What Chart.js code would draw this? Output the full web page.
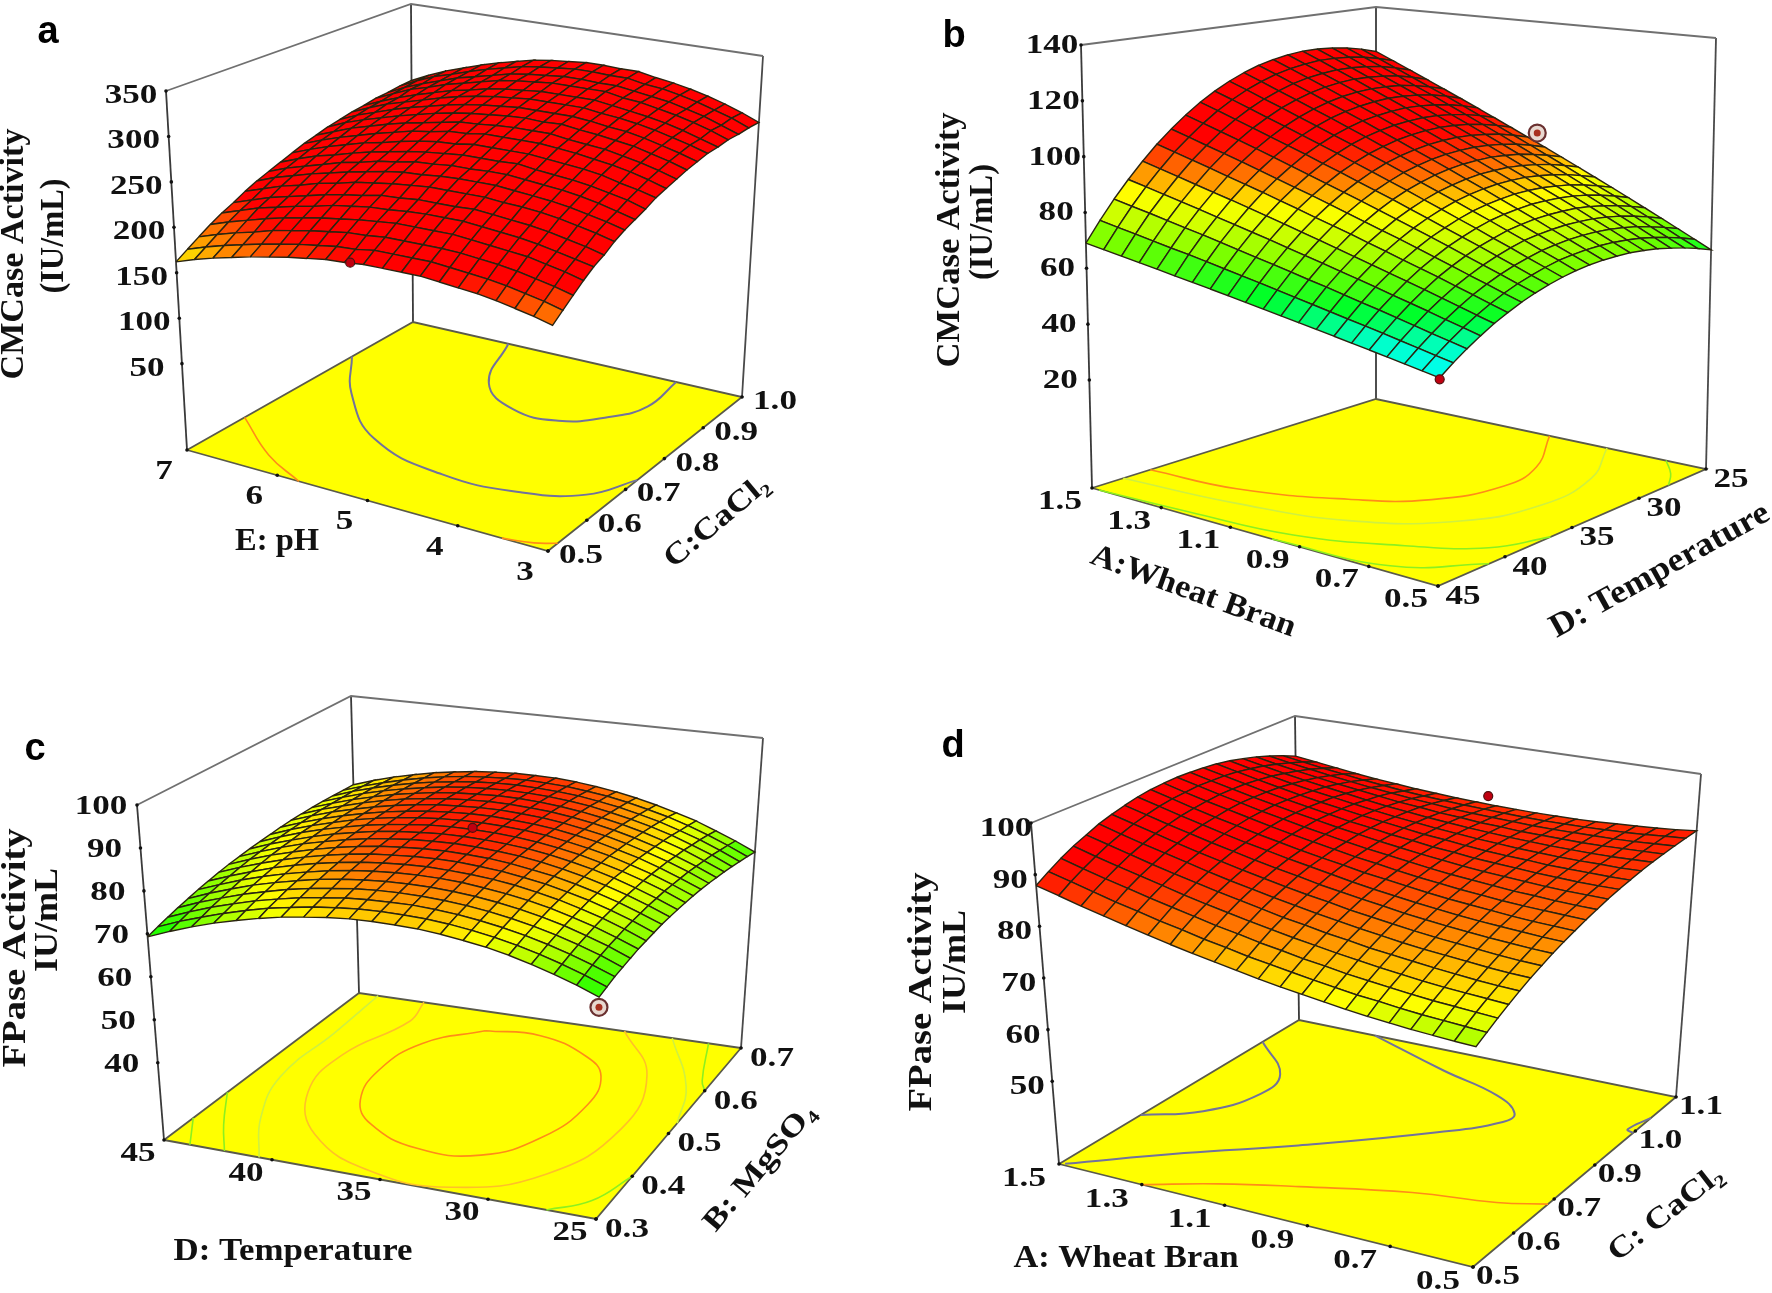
<!DOCTYPE html>
<html><head><meta charset="utf-8">
<style>html,body{margin:0;padding:0;background:#fff}canvas{display:block}</style>
<script src="https://cdn.jsdelivr.net/npm/chart.js@4/dist/chart.umd.min.js"></script>
</head><body><canvas id="c" width="1772" height="1293"></canvas>
<script>
// ---------- panel a: CMCase vs pH / CaCl2 ----------
const phTicks=[7,6,5,4,3];
const caTicksA=[0.5,0.6,0.7,0.8,0.9,1.0];
const zTicksA=[50,100,150,200,250,300,350];
const surfaceA=[
[162,170,178,186,193,199,206,212,217,222,227,232,236,240,243,246,248,251,252,254,255],
[169,177,185,193,200,206,213,220,225,230,235,240,244,249,252,255,257,260,262,264,265],
[175,183,191,199,207,213,220,226,231,237,242,247,252,256,259,263,265,269,270,273,274],
[180,188,196,205,212,218,225,232,237,242,248,253,258,262,266,269,272,275,277,279,281],
[185,193,202,210,217,223,231,237,243,248,254,259,264,268,272,275,278,282,284,286,288],
[189,197,206,214,221,228,235,242,247,253,258,264,269,273,277,281,284,287,289,292,294],
[193,201,210,218,226,232,240,246,252,257,263,269,273,278,282,286,288,292,294,297,299],
[196,204,213,221,229,235,243,250,255,261,267,272,277,282,286,290,293,297,299,302,304],
[199,207,216,224,232,239,246,253,259,264,270,276,281,285,289,293,296,300,302,305,307],
[200,208,217,226,233,240,248,254,260,266,271,277,282,287,291,295,298,302,304,307,309],
[202,211,219,228,235,242,250,256,262,268,274,280,284,289,293,297,300,304,306,309,311],
[202,211,219,228,236,242,250,257,262,268,274,280,285,290,293,297,300,304,306,309,311],
[202,211,219,228,236,242,250,257,263,268,274,280,285,289,293,297,300,304,305,308,310],
[202,211,219,228,236,243,250,257,263,269,274,280,285,290,293,297,300,304,305,308,310],
[200,209,218,226,234,241,248,255,261,266,272,278,282,287,291,294,297,300,302,304,306],
[198,207,216,224,232,239,247,253,259,264,270,276,280,285,288,292,294,298,299,302,303],
[196,205,214,222,230,237,245,251,257,262,268,273,278,282,286,289,291,294,296,298,299],
[193,202,211,220,227,234,242,248,254,259,265,270,274,279,282,285,287,290,291,293,294],
[189,198,207,216,223,230,238,244,250,255,260,266,270,274,277,280,282,285,286,287,288],
[185,194,203,212,219,226,234,240,245,251,256,261,265,269,272,275,276,279,279,281,281],
[180,189,198,207,215,221,229,235,240,245,251,255,259,263,266,269,270,272,272,273,273]];
const contoursA=[
{k:'blue',p:[[7,.865],[6.48,.765],[5.7,.662],[4.71,.617],[3.86,.625],[3.28,.662],[3,.73]]},
{k:'blue',p:[[5.84,1],[5.47,.883],[4.92,.83],[4.38,.829],[3.98,.87],[3.76,.92],[3.8,1]]},
{k:'orange',p:[[7,.6275],[6.32,.546],[5.76,.5]]},
{k:'orange',p:[[3.51,.5],[3.2,.51],[3,.525]]}];
const pointsA=[{k:'dot',p:[5.14,.5,201]}];

// ---------- panel b: CMCase vs wheat bran / temperature ----------
const wheatTicksB=[1.5,1.3,1.1,0.9,0.7,0.5];
const tempTicksB=[45,40,35,30,25];
const zTicksB=[20,40,60,80,100,120,140];
const surfaceB=[
[69,76.1,82.8,88.9,94.6,99.9,104.6,108.9,112.8,116.1,119,121.4,123.4,124.8,125.8,126.4,126.4,126,125.2,123.8,122],
[68,74.9,81.4,87.4,92.9,98.1,102.6,106.8,110.6,113.8,116.6,118.9,120.8,122.1,123,123.6,123.5,123.1,122.2,120.8,119],
[67,73.7,80.1,85.8,91.2,96.2,100.6,104.7,108.3,111.4,114.1,116.3,118.1,119.4,120.2,120.7,120.6,120.1,119.3,117.8,116],
[66,72.5,78.7,84.3,89.5,94.4,98.7,102.6,106.1,109,111.7,113.8,115.5,116.7,117.5,117.9,117.7,117.2,116.3,114.8,113],
[65,71.3,77.3,82.8,87.8,92.5,96.7,100.5,103.8,106.7,109.2,111.2,112.8,114,114.7,115,114.8,114.3,113.3,111.8,110],
[64,70.2,76,81.2,86.2,90.7,94.7,98.4,101.6,104.4,106.8,108.7,110.2,111.2,111.9,112.2,112,111.4,110.4,108.9,107],
[63,69,74.6,79.7,84.5,88.9,92.7,96.2,99.4,102,104.3,106.1,107.6,108.5,109.1,109.4,109.1,108.4,107.4,105.9,104],
[62,67.8,73.2,78.2,82.8,87,90.7,94.1,97.1,99.7,101.9,103.6,104.9,105.8,106.3,106.5,106.2,105.5,104.4,102.9,101],
[61,66.6,71.8,76.7,81.1,85.2,88.8,92,94.9,97.3,99.4,101,102.3,103.1,103.6,103.7,103.3,102.6,101.4,99.9,98],
[60,65.4,70.5,75.1,79.4,83.3,86.8,89.9,92.6,95,97,98.5,99.6,100.4,100.8,100.8,100.4,99.6,98.5,96.9,95],
[59,64.2,69.1,73.6,77.7,81.5,84.8,87.8,90.4,92.6,94.5,95.9,97,97.7,98,98,97.5,96.7,95.5,93.9,92],
[58,63,67.7,72.1,76,79.7,82.8,85.7,88.2,90.3,92,93.4,94.4,95,95.2,95.2,94.6,93.8,92.5,90.9,89],
[57,61.8,66.4,70.5,74.3,77.8,80.8,83.6,85.9,87.9,89.6,90.8,91.7,92.3,92.4,92.3,91.7,90.8,89.6,87.9,86],
[56,60.6,65,69,72.6,76,78.9,81.5,83.7,85.6,87.2,88.3,89.1,89.6,89.7,89.5,88.8,87.9,86.6,84.9,83],
[55,59.4,63.6,67.5,70.9,74.1,76.9,79.4,81.4,83.2,84.7,85.7,86.4,86.9,86.9,86.6,85.9,85,83.6,81.9,80],
[54,58.3,62.3,65.9,69.3,72.3,74.9,77.3,79.2,80.9,82.3,83.2,83.8,84.2,84.1,83.8,83.1,82.1,80.7,79,77],
[53,57.1,60.9,64.4,67.6,70.5,72.9,75.1,77,78.5,79.8,80.6,81.2,81.4,81.3,81,80.2,79.1,77.7,76,74],
[52,55.9,59.5,62.9,65.9,68.6,70.9,73,74.7,76.2,77.4,78.1,78.5,78.7,78.5,78.1,77.3,76.2,74.7,73,71],
[51,54.7,58.1,61.3,64.2,66.8,69,70.9,72.5,73.8,74.9,75.5,75.9,76,75.8,75.3,74.4,73.3,71.7,70,68],
[50,53.5,56.8,59.8,62.5,64.9,67,68.8,70.2,71.5,72.5,73,73.3,73.3,73,72.4,71.5,70.3,68.8,67,65],
[49,52.4,55.5,58.3,60.9,63.1,65.1,66.7,68.1,69.2,70,70.5,70.7,70.6,70.3,69.6,68.7,67.4,65.9,64.1,62]];
const contoursB=[
{k:'orange',p:[[1.5,40.9],[1.268,40.4],[1.031,38.2],[.883,35.8],[.814,32.2],[.844,29.1],[.974,25]]},
{k:'pale',p:[[1.5,42.8],[1.199,42.1],[.932,40.6],[.735,37.4],[.656,33.3],[.686,28.9],[.8,25]]},
{k:'green',p:[[1.48,45],[1.238,44.6],[.962,43.9],[.725,41.7],[.567,39.5],[.5,36.6]]},
{k:'green',p:[[.98,45],[.666,44.3],[.5,41.2]]},
{k:'green',p:[[.621,25],[.55,26.4],[.5,27.8]]}];
const pointsB=[{k:'dot',p:[.5,45,48.5]},{k:'ring',p:[1.022,25,97]}];

// ---------- panel c: FPase vs temperature / MgSO4 ----------
const tempTicksC=[45,40,35,30,25];
const mgTicks=[0.3,0.4,0.5,0.6,0.7];
const zTicksC=[40,50,60,70,80,90,100];
const surfaceC=[
[69.3,70.2,71.0,71.8,72.5,73.2,73.8,74.4,74.9,75.3,75.7,76.0,76.3,76.6,76.8,76.9,77.0,77.0,76.9,76.8,76.7],
[71.3,72.2,73.0,73.8,74.5,75.1,75.7,76.3,76.8,77.2,77.6,77.9,78.2,78.4,78.6,78.7,78.7,78.7,78.7,78.5,78.4],
[73.1,73.9,74.8,75.5,76.2,76.9,77.4,78.0,78.5,78.9,79.2,79.6,79.8,80.0,80.2,80.2,80.3,80.3,80.2,80.0,79.9],
[74.7,75.5,76.3,77.1,77.8,78.4,79.0,79.5,79.9,80.4,80.7,81.0,81.2,81.4,81.5,81.6,81.6,81.6,81.5,81.3,81.1],
[76.0,76.9,77.7,78.4,79.1,79.7,80.3,80.8,81.2,81.6,82.0,82.2,82.5,82.6,82.7,82.8,82.8,82.7,82.6,82.4,82.2],
[77.2,78.1,78.8,79.6,80.2,80.8,81.4,81.9,82.3,82.7,83.0,83.3,83.5,83.6,83.7,83.8,83.7,83.6,83.5,83.3,83.0],
[78.2,79.0,79.8,80.5,81.2,81.8,82.3,82.8,83.2,83.6,83.9,84.1,84.3,84.4,84.5,84.5,84.5,84.4,84.2,84.0,83.7],
[78.9,79.8,80.5,81.2,81.9,82.5,83.0,83.5,83.9,84.2,84.5,84.7,84.9,85.0,85.1,85.1,85.0,84.9,84.7,84.4,84.1],
[79.5,80.3,81.1,81.8,82.4,83.0,83.5,83.9,84.3,84.7,84.9,85.2,85.3,85.4,85.4,85.4,85.3,85.2,85.0,84.7,84.4],
[79.9,80.7,81.4,82.1,82.7,83.3,83.8,84.2,84.6,84.9,85.2,85.4,85.5,85.6,85.6,85.6,85.5,85.3,85.1,84.8,84.4],
[80.0,80.8,81.5,82.2,82.8,83.4,83.9,84.3,84.7,85.0,85.2,85.4,85.5,85.6,85.6,85.5,85.4,85.2,84.9,84.6,84.3],
[79.9,80.7,81.5,82.1,82.7,83.3,83.7,84.2,84.5,84.8,85.0,85.2,85.3,85.3,85.3,85.2,85.1,84.9,84.6,84.3,83.9],
[79.7,80.5,81.2,81.8,82.4,83.0,83.4,83.8,84.2,84.4,84.6,84.8,84.9,84.9,84.9,84.8,84.6,84.4,84.1,83.7,83.3],
[79.2,80.0,80.7,81.3,81.9,82.4,82.9,83.3,83.6,83.9,84.1,84.2,84.3,84.3,84.2,84.1,83.9,83.7,83.3,83.0,82.5],
[78.5,79.3,80.0,80.6,81.2,81.7,82.2,82.5,82.8,83.1,83.3,83.4,83.4,83.4,83.3,83.2,83.0,82.7,82.4,82.0,81.5],
[77.7,78.4,79.1,79.7,80.3,80.8,81.2,81.6,81.9,82.1,82.3,82.4,82.4,82.4,82.3,82.1,81.9,81.6,81.2,80.8,80.3],
[76.6,77.3,78.0,78.6,79.2,79.7,80.1,80.4,80.7,80.9,81.1,81.1,81.2,81.1,81.0,80.8,80.6,80.3,79.9,79.5,78.9],
[75.3,76.0,76.7,77.3,77.9,78.3,78.7,79.1,79.3,79.5,79.7,79.7,79.7,79.7,79.5,79.3,79.1,78.8,78.3,77.9,77.4],
[73.8,74.5,75.2,75.8,76.3,76.8,77.2,77.5,77.7,77.9,78.0,78.1,78.1,78.0,77.9,77.6,77.4,77.0,76.6,76.1,75.5],
[72.1,72.8,73.5,74.1,74.6,75.0,75.4,75.7,75.9,76.1,76.2,76.3,76.2,76.1,76.0,75.7,75.4,75.1,74.6,74.1,73.5],
[70.2,70.9,71.6,72.1,72.6,73.1,73.4,73.7,74.0,74.1,74.2,74.2,74.2,74.1,73.9,73.6,73.3,72.9,72.4,71.9,71.3]];
const contoursC=[
{k:'orange',p:[[37.4,.657],[34.7,.664],[31.7,.634],[30.2,.597],[29.6,.533],[30.2,.449],[32,.389],[34.9,.38],[37.8,.415],[39.3,.462],[40,.534],[39.5,.608],[37.4,.657]]},
{k:'lightorange',p:[[31.1,.7],[28.2,.614],[27.2,.494],[28.6,.374],[31.9,.311],[35.7,.314],[39.5,.371],[41.8,.46],[42.3,.555],[41.2,.653],[41.6,.7]]},
{k:'pale',p:[[40.6,.3],[42.4,.386],[43.7,.484],[43.8,.602],[44,.7]]},
{k:'pale',p:[[28.6,.7],[26,.603],[25,.524]]},
{k:'green',p:[[27.3,.3],[25.8,.336],[25,.4]]},
{k:'green',p:[[45,.43],[43.5,.357],[42.2,.3]]},
{k:'green',p:[[45,.36],[43.8,.3]]},
{k:'green',p:[[26.7,.7],[25.5,.62],[25,.6]]}];
const pointsC=[{k:'dot',p:[35,.52,85.8]},{k:'ring',p:[25,.3,68]}];

// ---------- panel d: FPase vs wheat bran / CaCl2 ----------
const wheatTicksD=[1.5,1.3,1.1,0.9,0.7,0.5];
const caTicksD=[0.5,0.62,0.74,0.86,0.98,1.1];
const caLabelsD=['0.5','0.6','0.7','0.9','1.0','1.1'];
const zTicksD=[50,60,70,80,90,100];
const surfaceD=[
[87.9,89.5,91.0,92.3,93.4,94.5,95.3,96.0,96.6,97.0,97.2,97.3,97.2,97.0,96.7,96.2,95.5,94.7,93.7,92.6,91.3],
[86.7,88.3,89.7,91.0,92.2,93.2,94.1,94.8,95.4,95.8,96.0,96.2,96.1,96.0,95.7,95.2,94.6,93.8,92.9,91.9,90.7],
[85.5,87.1,88.5,89.8,91.0,92.0,92.9,93.6,94.2,94.6,94.9,95.1,95.1,95.0,94.7,94.3,93.7,93.0,92.2,91.2,90.1],
[84.4,85.9,87.4,88.7,89.8,90.9,91.7,92.5,93.1,93.5,93.9,94.1,94.1,94.0,93.8,93.4,92.9,92.3,91.5,90.6,89.5],
[83.3,84.9,86.3,87.6,88.7,89.8,90.6,91.4,92.0,92.5,92.9,93.1,93.2,93.1,92.9,92.6,92.2,91.6,90.9,90.0,89.0],
[82.3,83.8,85.3,86.5,87.7,88.7,89.6,90.4,91.0,91.5,91.9,92.2,92.3,92.3,92.1,91.9,91.5,91.0,90.3,89.5,88.6],
[81.3,82.9,84.3,85.5,86.7,87.7,88.6,89.4,90.1,90.6,91.0,91.3,91.5,91.5,91.4,91.2,90.8,90.4,89.8,89.0,88.2],
[80.4,81.9,83.3,84.6,85.8,86.8,87.7,88.5,89.2,89.7,90.2,90.5,90.7,90.7,90.7,90.5,90.2,89.8,89.3,88.6,87.9],
[79.6,81.1,82.5,83.7,84.9,85.9,86.8,87.7,88.4,88.9,89.4,89.7,90.0,90.1,90.1,89.9,89.7,89.4,88.9,88.3,87.6],
[78.8,80.2,81.6,82.9,84.0,85.1,86.0,86.8,87.6,88.2,88.6,89.0,89.3,89.4,89.5,89.4,89.2,88.9,88.5,88.0,87.4],
[78.0,79.5,80.9,82.1,83.3,84.3,85.3,86.1,86.8,87.4,88.0,88.4,88.7,88.9,88.9,88.9,88.8,88.6,88.2,87.8,87.2],
[77.3,78.8,80.1,81.4,82.5,83.6,84.5,85.4,86.1,86.8,87.3,87.8,88.1,88.3,88.5,88.5,88.4,88.2,88.0,87.6,87.1],
[76.7,78.1,79.5,80.7,81.9,82.9,83.9,84.8,85.5,86.2,86.7,87.2,87.6,87.9,88.0,88.1,88.1,88.0,87.8,87.4,87.0],
[76.1,77.5,78.8,80.1,81.2,82.3,83.3,84.1,84.9,85.6,86.2,86.7,87.1,87.4,87.6,87.8,87.8,87.7,87.6,87.3,87.0],
[75.5,76.9,78.3,79.5,80.7,81.7,82.7,83.6,84.4,85.1,85.7,86.3,86.7,87.1,87.3,87.5,87.6,87.6,87.5,87.3,87.0],
[75.0,76.5,77.8,79.0,80.2,81.2,82.2,83.1,83.9,84.7,85.3,85.9,86.4,86.8,87.1,87.3,87.4,87.5,87.5,87.3,87.1],
[74.6,76.0,77.3,78.5,79.7,80.8,81.8,82.7,83.5,84.3,84.9,85.5,86.1,86.5,86.8,87.1,87.3,87.4,87.5,87.4,87.3],
[74.2,75.6,76.9,78.1,79.3,80.4,81.4,82.3,83.2,83.9,84.6,85.3,85.8,86.3,86.7,87.0,87.2,87.4,87.5,87.5,87.5],
[73.9,75.3,76.6,77.8,78.9,80.0,81.0,82.0,82.9,83.6,84.4,85.0,85.6,86.1,86.6,87.0,87.2,87.5,87.6,87.7,87.7],
[73.6,75.0,76.3,77.5,78.6,79.7,80.7,81.7,82.6,83.4,84.2,84.8,85.5,86.0,86.5,86.9,87.3,87.6,87.8,88.0,88.0],
[73.4,74.7,76.0,77.2,78.4,79.5,80.5,81.5,82.4,83.2,84.0,84.7,85.4,86.0,86.5,87.0,87.4,87.7,88.0,88.2,88.4]];
const contoursD=[
{k:'blue',p:[[1.5,1.009],[1.365,.922],[1.343,.85],[1.398,.759],[1.5,.704]]},
{k:'blue',p:[[1.298,1.1],[1.053,1.037],[.875,.997],[.792,.956],[.793,.924],[.895,.853],[1.125,.723],[1.312,.622],[1.49,.505]]},
{k:'blue',p:[[.5,1.026],[.52,.98],[.5,.973]]},
{k:'orange',p:[[1.3,.5],[1.166,.557],[1.014,.605],[.789,.665],[.604,.693],[.5,.722]]}];
const pointsD=[{k:'dot',p:[1.02,1.1,89]}];

// ---------- colours and geometry of the drawing ----------
const lineColors={blue:'#72729c',orange:'#ff8c18',lightorange:'#ffc028',pale:'#d0f040',green:'#8cf020'};
const panels=[
{id:'a',surface:surfaceA,contours:contoursA,points:pointsA,xr:[7,3],yr:[.5,1],zr:[-45,350],xTicks:phTicks,yTicks:caTicksA,zTicks:zTicksA,
 floor:[[187,450],[548,551],[742,397],[413,322]],top:[[166,91],[556,155],[763,56],[411,4]],
 off:{x:[-23,22],y:[33,5],z:[-35,5]},
 stops:[[162,[224,240,0]],[170,[255,208,0]],[180,[255,144,0]],[195,[255,64,0]],[205,[255,0,0]]]},
{id:'b',surface:surfaceB,contours:contoursB,points:pointsB,xr:[1.5,.5],yr:[45,25],zr:[-18.7,140],xTicks:wheatTicksB,yTicks:tempTicksB,zTicks:zTicksB,
 floor:[[1092,488],[1438,586],[1706,469],[1376,399]],top:[[1081,45],[1442,98],[1716,38],[1376,7]],
 off:{x:[-32,14],y:[25,11],z:[-29,1]},
 stops:[[48,[0,200,170]],[50,[0,255,240]],[55,[0,255,200]],[62,[0,255,40]],[70,[110,255,0]],[78,[200,255,0]],[85,[255,255,0]],[90,[255,170,0]],[97,[255,60,0]],[103,[255,0,0]]]},
{id:'c',surface:surfaceC,contours:contoursC,points:pointsC,xr:[45,25],yr:[.3,.7],zr:[22,100],xTicks:tempTicksC,yTicks:mgTicks,zTicks:zTicksC,
 floor:[[164,1140],[596,1219],[741,1048],[359,993]],top:[[137,805],[601,860],[763,738],[351,696]],
 off:{x:[-26,14],y:[31,11],z:[-36,2]},
 stops:[[69.5,[0,255,0]],[74,[128,255,0]],[78.5,[255,255,0]],[81.5,[255,165,0]],[83.5,[255,90,0]],[85,[255,30,0]]]},
{id:'d',surface:surfaceD,contours:contoursD,points:pointsD,xr:[1.5,.5],yr:[.5,1.1],zr:[34,100],xTicks:wheatTicksD,yTicks:caTicksD,yLabels:caLabelsD,zTicks:zTicksD,
 floor:[[1059,1164],[1473,1267],[1676,1097],[1299,1020]],top:[[1031,823],[1478,898],[1701,774],[1295,716]],
 off:{x:[-35,15],y:[25,10],z:[-25,6]},
 stops:[[72.5,[127,255,0]],[76.5,[255,255,0]],[82,[255,144,0]],[88,[255,32,0]],[91,[255,0,0]]]}];
const titles=[
['CMCase Activity',14,254,-90,34,251],['(IU/mL)',54,236,-90,33,115],['E: pH',277,542,0,31,84],['C:CaCl₂',717,522,-40,30,127],
['CMCase Activity',950,240,-90,34,255],['(IU/mL)',983,222,-90,33,116],['A:Wheat Bran',1193,592,20,32,216],['D: Temperature',1660,571,-29,33,246],
['FPase Activity',16,948,-90,34,239],['IU/mL',48,920,-90,33,104],['D: Temperature',293,1252,0,31,239],['B: MgSO₄',760,1168,-50,30,157],
['FPase Activity',922,992,-90,34,239],['IU/mL',956,962,-90,33,104],['A: Wheat Bran',1126,1259,0,31,225],['C: CaCl₂',1666,1214,-38,30,137]];
const letters=[['a',48,33],['b',954,37],['c',35,750],['d',953,747]];

function quadMap(q){
 return (u,v)=>[0,1].map(k=>(1-u)*(1-v)*q[0][k]+u*(1-v)*q[1][k]+u*v*q[2][k]+(1-u)*v*q[3][k]);
}
function colorOf(z,stops){
 if(z<=stops[0][0])return stops[0][1];
 for(let i=1;i<stops.length;i++){if(z<=stops[i][0]){
  const t=(z-stops[i-1][0])/(stops[i][0]-stops[i-1][0]);
  return stops[i][1].map((c,n)=>Math.round(stops[i-1][1][n]+t*(c-stops[i-1][1][n])));}}
 return stops[stops.length-1][1];
}
const drawList=[], textItems=[];
function add(o){drawList.push(Object.assign({type:'line',pointRadius:0,borderWidth:1,fill:false,tension:0,borderColor:'#000'},o));}
panels.forEach(P=>{
 const hf=quadMap(P.floor),ht=quadMap(P.top);
 const U=x=>(x-P.xr[0])/(P.xr[1]-P.xr[0]),V=y=>(y-P.yr[0])/(P.yr[1]-P.yr[0]),W=z=>(z-P.zr[0])/(P.zr[1]-P.zr[0]);
 const at=(u,v,w)=>{const a=hf(u,v),b=ht(u,v);return {x:a[0]+(b[0]-a[0])*w,y:a[1]+(b[1]-a[1])*w};};
 const pr=(x,y,z)=>at(U(x),V(y),W(z));
 add({data:[at(0,0,0),at(0,0,1)],borderColor:'#3a3a3a',borderWidth:1.8});
 add({data:[at(1,1,0),at(1,1,1)],borderColor:'#4a4a4a',borderWidth:1.8});
 add({data:[at(0,1,0),at(0,1,1)],borderColor:'#3a3a3a',borderWidth:1.8});
 add({data:[at(0,0,1),at(0,1,1),at(1,1,1)],borderColor:'#707070',borderWidth:1.8});
 add({data:[at(0,0,0),at(1,0,0),at(1,1,0),at(0,1,0),at(0,0,0)],fill:'shape',backgroundColor:'#ffff00',borderColor:'#5a5a4a',borderWidth:1.8});
 P.contours.forEach(c=>add({data:c.p.map(q=>pr(q[0],q[1],P.zr[0])),borderColor:lineColors[c.k],borderWidth:c.k==='blue'?2:1.6,tension:.45}));
 const dots=[...P.xTicks.map(t=>pr(t,P.yr[0],P.zr[0])),...P.yTicks.map(t=>pr(P.xr[1],t,P.zr[0])),...P.zTicks.map(t=>at(0,0,W(t)))];
 add({data:dots,showLine:false,pointRadius:1.8,pointBackgroundColor:'#111',pointBorderWidth:0});
 const S=P.surface,n=S.length-1,m=S[0].length-1;
 for(let i=0;i<n;i++)for(let j=m-1;j>=0;j--){
  const pts=[at(i/n,j/m,W(S[i][j])),at((i+1)/n,j/m,W(S[i+1][j])),at((i+1)/n,(j+1)/m,W(S[i+1][j+1])),at(i/n,(j+1)/m,W(S[i][j+1]))];
  pts.push(pts[0]);
  const c=colorOf((S[i][j]+S[i+1][j]+S[i+1][j+1]+S[i][j+1])/4,P.stops);
  add({data:pts,fill:'shape',backgroundColor:`rgb(${c})`,borderColor:'#2a2410',borderWidth:1.4});
 }
 P.points.forEach(o=>{
  const q=pr(o.p[0],o.p[1],o.p[2]);
  if(o.k==='ring'){
   add({data:[q],showLine:false,pointRadius:8.5,pointBackgroundColor:'#e8d8d0',pointBorderColor:'#6a3030',pointBorderWidth:2.2});
   add({data:[q],showLine:false,pointRadius:3.5,pointBackgroundColor:'#a83020',pointBorderWidth:0});
  } else add({data:[q],showLine:false,pointRadius:4.5,pointBackgroundColor:'#c00010',pointBorderColor:'#501010',pointBorderWidth:1.2});
 });
 const put=(s,q,o)=>textItems.push([String(s),q.x+o[0],q.y+o[1]]);
 const fmt=(t,ref)=>ref.some(r=>r%1!==0)?t.toFixed(1):String(t);
 P.xTicks.forEach(t=>put(fmt(t,P.xTicks),pr(t,P.yr[0],P.zr[0]),P.off.x));
 P.yTicks.forEach((t,i)=>put(P.yLabels?P.yLabels[i]:fmt(t,P.yTicks),pr(P.xr[1],t,P.zr[0]),P.off.y));
 P.zTicks.forEach(t=>put(t,at(0,0,W(t)),P.off.z));
});
const textPlugin={id:'texts',afterDraw(chart){
 const ctx=chart.ctx;
 const scX=chart.scales.x,scY=chart.scales.y;
 ctx.save();ctx.fillStyle='#111';ctx.textAlign='center';ctx.textBaseline='middle';
 ctx.font='bold 27px "Liberation Serif"';
 textItems.forEach(t=>{ctx.save();ctx.translate(scX.getPixelForValue(t[1]),scY.getPixelForValue(t[2]));ctx.scale(1.3,1);ctx.fillText(t[0],0,0);ctx.restore();});
 titles.forEach(t=>{
  ctx.font=`bold ${t[4]}px "Liberation Serif"`;
  const w=ctx.measureText(t[0]).width;
  ctx.save();ctx.translate(scX.getPixelForValue(t[1]),scY.getPixelForValue(t[2]));ctx.rotate(t[3]*Math.PI/180);ctx.scale(t[5]/w,1);ctx.fillText(t[0],0,0);ctx.restore();
 });
 ctx.font='bold 38px "Liberation Sans"';ctx.fillStyle='#000';
 letters.forEach(t=>ctx.fillText(t[0],scX.getPixelForValue(t[1]),scY.getPixelForValue(t[2])));
 ctx.restore();
}};
new Chart(document.getElementById('c'),{
 data:{datasets:drawList.reverse()},
 options:{responsive:false,animation:false,events:[],
  layout:{padding:0,autoPadding:false},
  plugins:{legend:{display:false},tooltip:{enabled:false},title:{display:false}},
  scales:{x:{type:'linear',min:0,max:1772,display:false},y:{type:'linear',min:0,max:1293,reverse:true,display:false}}},
 plugins:[textPlugin]});
</script></body></html>
